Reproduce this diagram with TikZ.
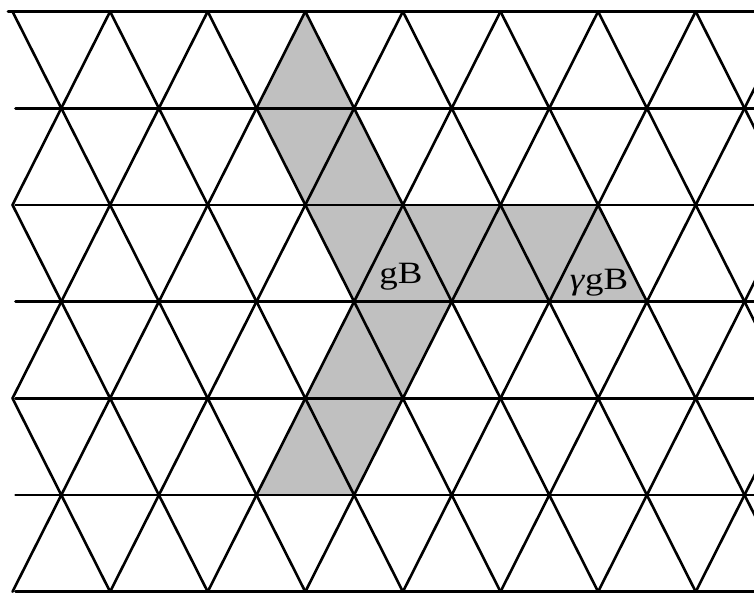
\documentclass[tikz,border=0pt]{standalone}
\usepackage{fontspec}
\setmainfont{Liberation Serif}
\definecolor{shadegray}{RGB}{192,192,192}
\tikzset{
  latline/.style={line width=2.6pt, black, line cap=round},
  lab/.style={inner sep=0pt, anchor=base, font=\fontsize{31}{37}\selectfont}
}
\begin{document}
\begin{tikzpicture}[x=1pt,y=-1pt]
\useasboundingbox (0,0) rectangle (754,592);
\fill[white] (0,0) rectangle (754,592);
% lattice vertices
\foreach \r in {0,...,6}{
  \foreach \k in {0,...,9}{
    \pgfmathsetmacro{\xx}{12.5+97.6*\k+48.8*mod(\r,2)}
    \pgfmathsetmacro{\yy}{11.5+96.7*\r}
    \coordinate (v-\r-\k) at (\xx,\yy);
  }
}
% shaded region
\fill[shadegray] (v-0-3) -- (v-1-3) -- (v-2-4) -- (v-2-6) -- (v-3-6) -- (v-3-4)
  -- (v-4-4) -- (v-5-3) -- (v-5-2) -- (v-4-3) -- (v-3-3) -- (v-2-3) -- (v-1-2) -- cycle;
% lattice lines
\begin{scope}
\clip (0,0) rectangle (754,592);
\foreach \r in {0,...,6}{
  \pgfmathsetmacro{\yy}{11.5+96.7*\r}
  \ifnum\r=0
    \draw[latline] (8,\yy) -- (760,\yy);
  \else
    \draw[latline] (15.5,\yy) -- (760,\yy);
  \fi
}
\foreach \r in {0,...,5}{
  \pgfmathtruncatemacro{\rn}{\r+1}
  \foreach \k in {0,...,8}{
    \pgfmathtruncatemacro{\km}{\k-1}
    \pgfmathtruncatemacro{\kp}{\k+1}
    \ifodd\r
      \draw[latline] (v-\r-\k) -- (v-\rn-\k);
      \draw[latline] (v-\r-\k) -- (v-\rn-\kp);
    \else
      \draw[latline] (v-\r-\k) -- (v-\rn-\k);
      \ifnum\k>0
        \draw[latline] (v-\r-\k) -- (v-\rn-\km);
      \fi
    \fi
  }
}
\end{scope}
% labels
\node[lab] (gB) at (401,283) {\scalebox{1.19}[1]{gB}};
\node[lab] (ggB) at (599,289) {\scalebox{1.19}[1]{\textit{γ}gB}};
\end{tikzpicture}
\end{document}
